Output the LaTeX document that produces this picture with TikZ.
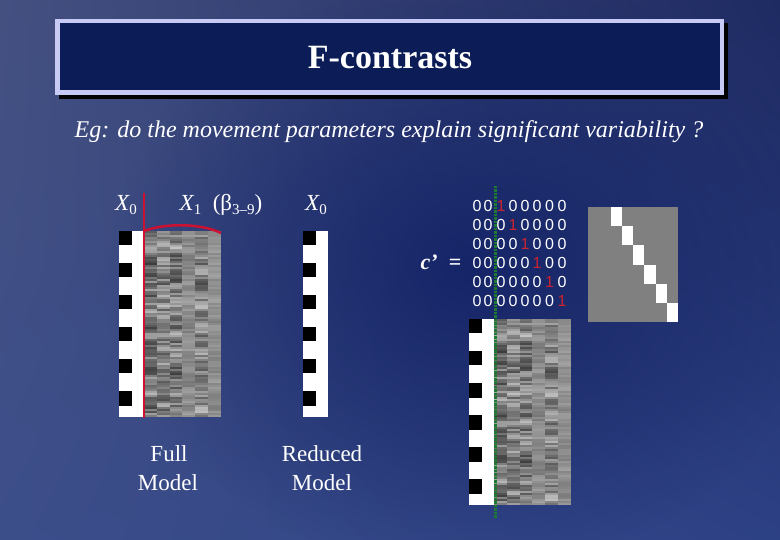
\documentclass[tikz,border=0pt]{standalone}
\usepackage{fontspec}
\setmainfont{Liberation Serif}
\newfontfamily\digitfont{Liberation Sans}
\usetikzlibrary{fadings,shadings}
\definecolor{bgUL}{RGB}{68,80,128}
\definecolor{bgUR}{RGB}{30,42,98}
\definecolor{bgLL}{RGB}{60,78,138}
\definecolor{bgLR}{RGB}{44,64,132}
\definecolor{bgDark}{RGB}{16,32,100}
\definecolor{titlebg}{RGB}{11,28,86}
\definecolor{titleborder}{RGB}{198,202,245}
\definecolor{accentred}{RGB}{204,17,51}
\definecolor{onered}{RGB}{200,35,48}
\definecolor{greenline}{RGB}{29,122,51}
\definecolor{matgray}{RGB}{128,128,128}
\tikzfading[name=radfade, inner color=transparent!0, outer color=transparent!100]
\newcommand{\mydatablock}[2]{%
  \pgfmathsetseed{11}%
  \foreach \c/\a/\m in {0/34/50,1/30/48,2/32/50,3/12/46,4/28/48,5/10/44}{%
    \xdef\myprev{\m}%
    \foreach \r in {0,...,92}{%
      \pgfmathsetmacro{\g}{max(3,min(97,0.4*\myprev+0.6*(\m+\a*rand)))}%
      \xdef\myprev{\g}%
      \fill[black!\g!white] ({#1+\c*12.83},{#2+\r*2}) rectangle ++(12.9,2.05);
    }%
  }%
}
\newcommand{\myxzero}[2]{%
  \fill[white] (#1,#2) rectangle ++(25,186);
  \foreach \o in {0,32,64,96,128,160}{%
    \fill[black] ({#1},{#2+\o}) rectangle ++(12.5,14.5);
  }%
}
\tikzset{
  lbl/.style={text=white, inner sep=0pt, anchor=base, font=\fontsize{23}{27}\selectfont},
  digit/.style={text=white, inner sep=0pt, font=\digitfont\fontsize{16}{18}\selectfont},
  redline/.style={draw=accentred, line width=2.5pt},
  greendots/.style={draw=greenline, line width=3pt, dash pattern=on 2.5pt off 1pt}
}
\begin{document}
\begin{tikzpicture}[x=1pt,y=-1pt]
\useasboundingbox (0,0) rectangle (780,540);
% background
\shade[upper left=bgUL, upper right=bgUR, lower left=bgLL, lower right=bgLR] (0,0) rectangle (780,540);
\fill[bgDark, path fading=radfade, fill opacity=0.85] (470,270) ellipse (360 and 300);
% title
\fill[black] (59,23) rectangle (728,99);
\fill[titleborder] (55,19) rectangle (724,95);
\fill[titlebg] (59.5,23.5) rectangle (719.5,90.5);
\node[text=white, font=\bfseries\fontsize{34}{40}\selectfont, inner sep=0pt] (title) at (390,58) {F-contrasts};
% subtitle
\node[text=white, font=\itshape\fontsize{24}{28}\selectfont, inner sep=0pt, anchor=base] (question) at (389,138) {Eg: do the movement parameters explain significant variability ?};
% full model
\myxzero{119}{231}
\mydatablock{144}{231}
\draw[redline] (144,193) -- (144,418);
\draw[redline] (144,231) .. controls (165,223) and (200,223) .. (221,233);
\node[lbl] (x0a) at (126,211) {\itshape X\raisebox{-0.35ex}{\upshape\fontsize{15}{17}\selectfont 0}};
\node[lbl] (x1) at (221,211) {\itshape X\raisebox{-0.35ex}{\upshape\fontsize{15}{17}\selectfont 1}\upshape\ \ (β\raisebox{-0.35ex}{\fontsize{15}{17}\selectfont 3–9})};
\node[lbl] (full1) at (169,461) {Full};
\node[lbl] (full2) at (168,490) {Model};
% reduced model
\myxzero{303}{231}
\node[lbl] (x0b) at (316,211) {\itshape X\raisebox{-0.35ex}{\upshape\fontsize{15}{17}\selectfont 0}};
\node[lbl] (red1) at (322,461) {Reduced};
\node[lbl] (red2) at (322,490) {Model};
% contrast
\node[text=white, inner sep=0pt, font=\bfseries\fontsize{22}{26}\selectfont] (cprime) at (441,262) {\itshape c’\upshape\ \ =};
\foreach \r in {0,...,5}{%
  \foreach \c/\xx in {0/477,1/488,2/501,3/513,4/525,5/537,6/549.5,7/562}{%
    \pgfmathtruncatemacro{\isone}{\c==\r+2 ? 1 : 0}%
    \ifnum\isone=1
      \node[digit, text=onered] (d\r\c) at (\xx,{206+\r*19}) {1};
    \else
      \node[digit] (d\r\c) at (\xx,{206+\r*19}) {0};
    \fi
  }%
}
\fill[matgray] (588,207) rectangle (678,322);
\foreach \i in {0,...,5}{%
  \fill[white] ({588+(\i+2)*11.25},{207+\i*19.17}) rectangle ++(11.25,19.17);
}
% bottom design matrix
\myxzero{469}{319}
\mydatablock{494}{319}
\draw[greendots] (495,186) -- (495,518);
\end{tikzpicture}
\end{document}
